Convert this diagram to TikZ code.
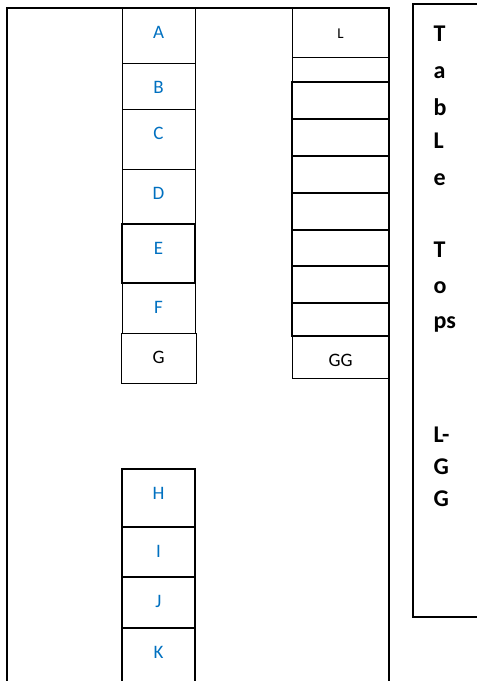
\documentclass[tikz,border=0pt]{standalone}
\usepackage{fontspec}
\setmainfont{Carlito}
\usetikzlibrary{positioning}
\definecolor{wordblue}{HTML}{0070C0}
\tikzset{
  cell/.style={draw,line width=1pt,inner sep=0pt,outer sep=0pt,anchor=north,minimum width=73pt,
    text height=30pt,text depth=#1,font=\fontsize{19}{21}\selectfont,text=wordblue},
  slot/.style={draw,line width=1.5pt,inner sep=0pt,outer sep=0pt,anchor=north,minimum width=97pt,minimum height=#1},
  frame/.style={line width=2pt},
  side/.style={anchor=base west,font=\fontsize{24}{28}\selectfont\bfseries},
}
\begin{document}
\begin{tikzpicture}[x=1pt,y=-1pt]
\useasboundingbox (0,0) rectangle (477,681);
\clip (0,0) rectangle (477,681);
% room outline
\draw[frame] (7,700) |- (389,8) -- (389,700);
% left row of tables
\node[cell=25pt] (a) at (158.5,8) {A};
\node[cell=16pt,below=0pt of a] (b) {B};
\node[cell=30pt,below=0pt of b] (c) {C};
\node[cell=25pt,below=0pt of c] (d) {D};
\node[cell=29pt,line width=1.6pt,below=0pt of d] (e) {E};
\node[cell=20pt,below=0pt of e] (f) {F};
\node[cell=20pt,minimum width=75pt,text=black,below=0pt of f] (g) {G};
% lower row
\node[cell=28pt,line width=1.2pt] (h) at (158.5,469) {H};
\node[cell=20pt,line width=1.6pt,below=0pt of h] (i) {I};
\node[cell=21pt,line width=1.6pt,below=0pt of i] (j) {J};
\node[cell=60pt,line width=1.2pt,below=0pt of j] (k) {K};
% right row
\node[cell=19pt,minimum width=97pt,text=black,font=\fontsize{15}{17}\selectfont] (l) at (340.5,8) {L};
\node[slot=25pt,line width=1pt,below=0pt of l] (t1) {};
\node[slot=37pt,below=0pt of t1] (t2) {};
\node[slot=37pt,below=0pt of t2] (t3) {};
\node[slot=37pt,below=0pt of t3] (t4) {};
\node[slot=37pt,below=0pt of t4] (t5) {};
\node[slot=36pt,below=0pt of t5] (t6) {};
\node[slot=37pt,below=0pt of t6] (t7) {};
\node[slot=33pt,below=0pt of t7] (t8) {};
\node[cell=12pt,minimum width=97pt,text=black,below=0pt of t8] (gg) {GG};
% side panel
\draw[line width=1.5pt] (490,4) -| (413,617) -- (490,617);
\foreach \y/\t in {41/T,78/a,115/b,148/L,185/e,257/T,293/o,328/ps,442/L-,474/G,506/G}
  \node[side] (s\y) at (430,\y) {\t};
\end{tikzpicture}
\end{document}
